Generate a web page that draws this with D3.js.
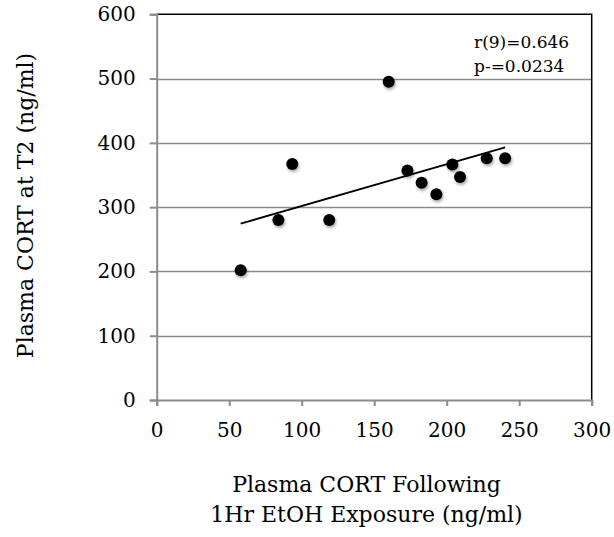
<!DOCTYPE html>
<html>
<head>
<meta charset="utf-8">
<script src="https://cdn.jsdelivr.net/npm/d3@7"></script>
<style>
  html, body { margin: 0; padding: 0; background: #fff; }
  svg { display: block; }
  text { font-family: "DejaVu Serif", "Liberation Serif", serif; fill: #000; }
</style>
</head>
<body>
<svg id="chart" width="614" height="537"></svg>
<script>
// Plasma CORT after 1 h EtOH exposure (x) vs. plasma CORT at T2 (y), ng/ml
const cortFollowingExposure = [57.9, 83.9, 93.5, 119, 160, 172.9, 182.7, 192.9, 203.9, 209.2, 227.6, 240.3];
const cortAtT2 = [202, 280, 367, 280, 495, 357, 338, 320, 366.5, 347, 376, 376];
const xTicks = [0, 50, 100, 150, 200, 250, 300];
const yTicks = [0, 100, 200, 300, 400, 500, 600];
const statLines = ["r(9)=0.646", "p-=0.0234"];
const xTitleLines = ["Plasma CORT Following", "1Hr EtOH Exposure (ng/ml)"];
const yTitle = "Plasma CORT at T2 (ng/ml)";

const svg = d3.select("#chart");
const plot = { left: 156.7, right: 591.7, top: 14.3, bottom: 400 };

const x = d3.scaleLinear().domain([0, 300]).range([plot.left, plot.right]);
const y = d3.scaleLinear().domain([0, 600]).range([plot.bottom, plot.top]);

const points = cortFollowingExposure.map((v, i) => ({ x: v, y: cortAtT2[i] }));

// soft shadow under the markers
const defs = svg.append("defs");
const f = defs.append("filter").attr("id", "shadow")
  .attr("x", "-50%").attr("y", "-50%").attr("width", "200%").attr("height", "200%");
f.append("feDropShadow").attr("dx", 1).attr("dy", 2).attr("stdDeviation", 1.6)
  .attr("flood-color", "#000").attr("flood-opacity", 0.35);

// horizontal gridlines
svg.append("g").selectAll("line")
  .data(yTicks.filter(t => t > 0 && t < 600))
  .join("line")
  .attr("x1", plot.left).attr("x2", plot.right)
  .attr("y1", d => Math.round(y(d)) + 0.5).attr("y2", d => Math.round(y(d)) + 0.5)
  .attr("stroke", "#8c8c8c").attr("stroke-width", 1.5);

// top and right frame
svg.append("path")
  .attr("d", `M${plot.left},${plot.top}H${plot.right}V${plot.bottom}`)
  .attr("fill", "none").attr("stroke", "#000").attr("stroke-width", 1.5);

// axes
const xAxis = svg.append("g")
  .attr("transform", `translate(0,${plot.bottom})`)
  .call(d3.axisBottom(x).tickValues(xTicks).tickSize(6).tickPadding(17));
const yAxis = svg.append("g")
  .attr("transform", `translate(${plot.left},0)`)
  .call(d3.axisLeft(y).tickValues(yTicks).tickSize(7).tickPadding(14));

[xAxis, yAxis].forEach(g => {
  g.select(".domain").attr("stroke", "#8c8c8c").attr("stroke-width", 2);
  g.selectAll(".tick line").attr("stroke", "#8c8c8c").attr("stroke-width", 2);
  g.selectAll(".tick text").attr("font-size", 20).attr("font-family", "DejaVu Serif").attr("fill", "#000");
});

// least-squares trend line across the observed x range
const mx = d3.mean(points, d => d.x), my = d3.mean(points, d => d.y);
const slope = d3.sum(points, d => (d.x - mx) * (d.y - my)) / d3.sum(points, d => (d.x - mx) ** 2);
const intercept = my - slope * mx;
const [x0, x1] = d3.extent(points, d => d.x);
svg.append("line")
  .attr("x1", x(x0)).attr("y1", y(intercept + slope * x0))
  .attr("x2", x(x1)).attr("y2", y(intercept + slope * x1))
  .attr("stroke", "#000").attr("stroke-width", 2);

// data markers
svg.append("g").attr("filter", "url(#shadow)")
  .selectAll("circle").data(points).join("circle")
  .attr("cx", d => x(d.x)).attr("cy", d => y(d.y)).attr("r", 6)
  .attr("fill", "#000");

// correlation annotation
svg.append("g").selectAll("text").data(statLines).join("text")
  .attr("x", 474).attr("y", (d, i) => 48 + i * 23.5)
  .attr("font-size", 17)
  .text(d => d);

// axis titles
svg.append("text")
  .attr("transform", `translate(33,205.5) rotate(-90)`)
  .attr("text-anchor", "middle").attr("font-size", 22)
  .text(yTitle);

svg.append("g").selectAll("text").data(xTitleLines).join("text")
  .attr("x", 366.5).attr("y", (d, i) => 492 + i * 30)
  .attr("text-anchor", "middle").attr("font-size", 22)
  .text(d => d);
</script>
</body>
</html>
